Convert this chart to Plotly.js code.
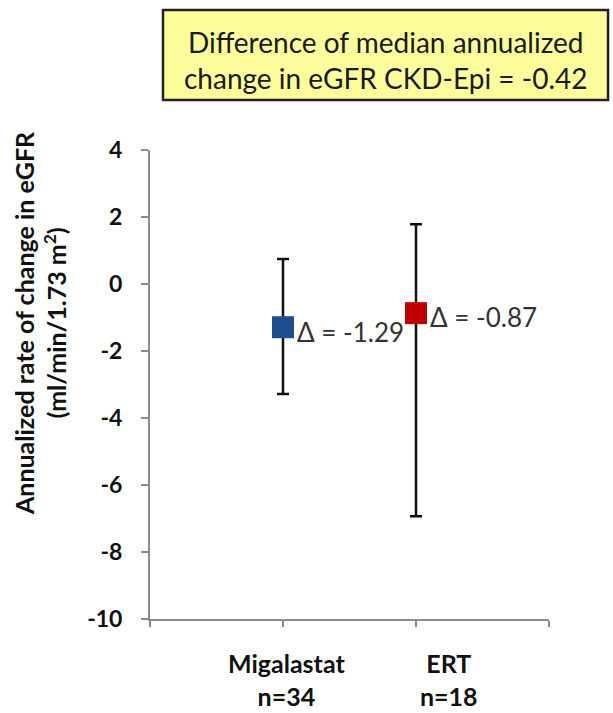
<!DOCTYPE html>
<html>
<head>
<meta charset="utf-8">
<script src="https://cdn.plot.ly/plotly-3.0.1.min.js"></script>
<style>html,body{margin:0;padding:0;background:#fff;}</style>
</head>
<body>
<div id="chart" style="width:613px;height:713px;"></div>
<script>
// Data
const groups = ["Migalastat", "ERT"];
const groupN = ["n=34", "n=18"];
const medians = [-1.29, -0.87];
const upperBounds = [0.75, 1.78];
const lowerBounds = [-3.28, -6.93];
const deltaLabels = ["Δ = -1.29", "Δ = -0.87"];
const markerColors = ["#1f4e8c", "#c00000"];
const yTicks = [4, 2, 0, -2, -4, -6, -8, -10];
const boxTitle = "Difference of median annualized<br>change in eGFR CKD-Epi = -0.42";
const yTitle = "Annualized rate of change in eGFR<br>(ml/min/1.73 m<sup>2</sup>)";

const FONT = "Lato, 'Open Sans', sans-serif";
const xPos = groups.map((g, i) => i + 1);

const traces = groups.map((g, i) => ({
  type: "scatter",
  mode: "markers",
  x: [xPos[i]],
  y: [medians[i]],
  marker: { symbol: "square", size: 22, color: markerColors[i], line: { width: 0 } },
  error_y: {
    type: "data", symmetric: false,
    array: [upperBounds[i] - medians[i]],
    arrayminus: [medians[i] - lowerBounds[i]],
    color: "#111", thickness: 2.5, width: 6
  },
  hoverinfo: "skip",
  showlegend: false
}));

const annotations = [];
groups.forEach((g, i) => {
  annotations.push({
    x: xPos[i], y: medians[i], xref: "x", yref: "y",
    text: deltaLabels[i], showarrow: false,
    xanchor: "left", yanchor: "middle", xshift: 12, yshift: i === 0 ? -5 : -4,
    font: { family: FONT, size: 26, color: "#333" }
  });
  annotations.push({
    x: xPos[i] + (i === 0 ? 0.03 : 0.25), y: 0, xref: "x", yref: "paper",
    text: "<b>" + g + "</b><br><b>" + groupN[i] + "</b>", showarrow: false,
    xanchor: "center", yanchor: "top", yshift: -27,
    font: { family: FONT, size: 25, color: "#111" }
  });
});
annotations.push({
  x: 0.59, y: 1.192, xref: "paper", yref: "paper",
  text: boxTitle, showarrow: false, xanchor: "center", yanchor: "middle",
  font: { family: FONT, size: 28, color: "#1a1a1a" }
});
annotations.push({
  x: -0.2757, y: 0.631, xref: "paper", yref: "paper",
  text: "<b>" + yTitle + "</b>", showarrow: false, textangle: -90,
  xanchor: "center", yanchor: "middle",
  font: { family: FONT, size: 25, color: "#111" }
});

const layout = {
  width: 613, height: 713,
  margin: { l: 150, r: 64, t: 150, b: 94 },
  paper_bgcolor: "#fff", plot_bgcolor: "#fff",
  xaxis: {
    range: [0, 3], tickvals: [0, 1, 2, 3], showticklabels: false,
    ticks: "outside", ticklen: 6, tickwidth: 2, tickcolor: "#8c8c8c",
    showline: true, linecolor: "#8c8c8c", linewidth: 2,
    showgrid: false, zeroline: false, fixedrange: true
  },
  yaxis: {
    range: [-10, 4], tickvals: yTicks, ticktext: yTicks.map(v => "<b>" + v + "</b>"),
    ticks: "outside", ticklen: 7, tickwidth: 2, tickcolor: "#8c8c8c",
    ticklabelstandoff: 14,
    tickfont: { family: FONT, size: 23, color: "#111" },
    showline: true, linecolor: "#8c8c8c", linewidth: 2,
    showgrid: false, zeroline: false, fixedrange: true
  },
  shapes: [{
    type: "rect", xref: "paper", yref: "paper",
    x0: 0.0326, x1: 1.148, y0: 1.1066, y1: 1.2985,
    fillcolor: "#fdfd9b", line: { color: "#222", width: 2.5 }, layer: "above"
  }],
  annotations: annotations
};

Plotly.newPlot("chart", traces, layout, { displayModeBar: false, staticPlot: true });
</script>
</body>
</html>
